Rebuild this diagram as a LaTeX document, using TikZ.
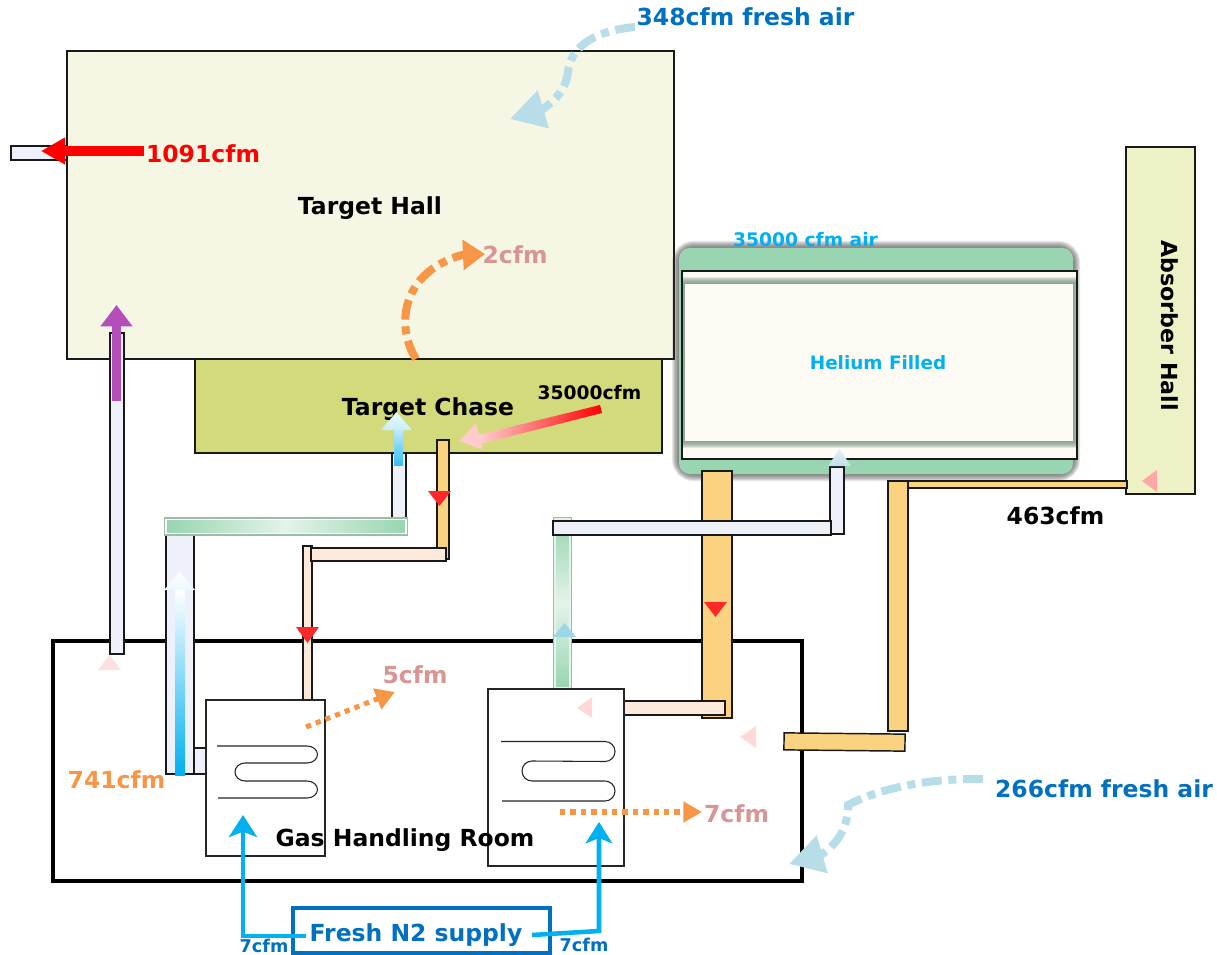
\documentclass[tikz,border=0pt]{standalone}
\usepackage{fontspec}
\setmainfont{DejaVu Sans}
\usetikzlibrary{arrows.meta,shadings}
\definecolor{hallfill}{HTML}{F5F6E4}
\definecolor{chasefill}{HTML}{D3DA7C}
\definecolor{absfill}{HTML}{EEF0C6}
\definecolor{ductblue}{HTML}{EEF1FA}
\definecolor{ductorange}{HTML}{FBD27F}
\definecolor{ductpeach}{HTML}{FDEADB}
\definecolor{glassgreen}{HTML}{98D5B0}
\definecolor{glasspale}{HTML}{E4F3EA}
\definecolor{cream}{HTML}{FDFBF3}
\definecolor{navy}{HTML}{0070C0}
\definecolor{sky}{HTML}{00B0F0}
\definecolor{flowor}{HTML}{F79646}
\definecolor{rose}{HTML}{D99594}
\definecolor{mist}{HTML}{B7DDE8}
\definecolor{violet}{HTML}{B44FB9}
\definecolor{hotred}{HTML}{FF2828}
\definecolor{blurgray}{HTML}{6F8F80}
\newcommand\rn[6]{\node[rect,#2,minimum width={(#5-#3)*0.75pt},minimum height={(#6-#4)*0.75pt}] (#1) at ({(#3+#5)/2},{(#4+#6)/2}) {};}
\newcommand\fs[1]{\fontsize{#1}{#1}\selectfont\bfseries}
\tikzset{
  rect/.style={rectangle,inner sep=0pt,outer sep=0pt},
  ln/.style={draw=black!90,line width=1.1pt},
  hall/.style={ln,fill=hallfill},
  chase/.style={ln,fill=chasefill},
  absorber/.style={ln,fill=absfill},
  dblue/.style={ln,fill=ductblue},
  dorange/.style={ln,fill=ductorange},
  dpeach/.style={ln,fill=ductpeach},
  hx/.style={draw=black!85,line width=0.8pt,fill=white},
  lab/.style={inner sep=0pt,outer sep=0pt},
  coil/.style={draw=black!85,line width=0.8pt},
  dotflow/.style={draw=flowor,line width=3.8pt,dash pattern=on 4pt off 3.8pt},
  ddflow/.style={line width=6pt,dash pattern=on 15pt off 5pt on 6pt off 5pt},
  n2flow/.style={draw=sky,line width=3.4pt},
}
\begin{document}
\begin{tikzpicture}[x=0.75pt,y=-0.75pt]
\useasboundingbox (0,0) rectangle (1217,955);
% halls
\rn{hallstub}{dblue}{11}{146}{67}{160}
\rn{thall}{hall}{67}{51}{674}{359}
\rn{tchase}{chase}{195}{359}{662}{453}
\rn{ahall}{absorber}{1126}{147}{1195}{494}
% helium vessel with blurred jacket
\foreach \w in {16,14,12,10,8,6,4,2}
  \draw[draw=black!75,line width=\w*0.75pt,opacity=.13,rounded corners=10pt] (680,249) rectangle (1072,473);
\fill[glassgreen,rounded corners=8pt] (679,248) rectangle (1073,474);
\rn{vessel}{ln,fill=cream}{682}{271}{1077}{459}
\begin{scope}
\clip (vessel.south west) rectangle (vessel.north east);
\foreach \w in {14,12,10,8,6,4,2}
  \draw[draw=blurgray,line width=\w*0.75pt,opacity=.2] (685,284) rectangle (1073,441);
\end{scope}
\rn{helium}{fill=cream}{685}{284}{1073}{441}
\draw[draw=black!90,line width=1.1pt] (vessel.south west) rectangle (vessel.north east);
% gas handling room
\rn{ghr}{draw=black,line width=3.2pt}{53}{641}{802}{881}
% ducts
\rn{d1}{dblue}{110}{333}{124}{654}
\rn{d2}{dblue}{166}{535}{194}{774}
\rn{d2b}{dblue}{194}{748}{207}{774}
\rn{d3}{dblue}{392}{453}{406}{519}
\node[rect,draw=black!25!glassgreen!70,line width=1pt,minimum width={242*0.75pt},minimum height={17*0.75pt}] (g1o) at (286,526.5) {};
\node[rect,draw=white,line width=1.1pt,left color=glassgreen,right color=glassgreen,middle color=glasspale,minimum width={240*0.75pt},minimum height={14*0.75pt}] (g1) at (286,526.5) {};
\rn{po1}{dorange}{437}{440}{449}{559}
\rn{pe1}{dpeach}{303}{546}{312}{700}
\rn{pe2}{dpeach}{311}{548}{446}{561}
\node[rect,draw=black!25!glassgreen!70,line width=1pt,minimum width={17*0.75pt},minimum height={171*0.75pt}] (g2o) at (562.5,603.5) {};
\node[rect,draw=glassgreen!25,line width=1.6pt,top color=glassgreen,bottom color=glassgreen,middle color=glasspale,minimum width={14.5*0.75pt},minimum height={169*0.75pt}] (g2) at (562.5,603.5) {};
\rn{o2}{dorange}{702}{471}{732}{718}
\rn{d5}{dblue}{830}{467}{844}{534}
\rn{d4}{dblue}{553}{521}{831}{535}
\rn{pe3}{dpeach}{620}{701}{725}{715}
\rn{o3}{dorange}{888}{481}{908}{731}
\rn{o4}{dorange}{908}{481}{1127}{488}
\node[rect,dorange,minimum width={121*0.75pt},minimum height={17*0.75pt},rotate=-0.6] (o5) at (844.5,742) {};
% heat exchangers
\rn{hxa}{hx}{206}{700}{325}{856}
\rn{hxb}{hx}{488}{689}{624}{866}
\draw[coil] (217,746) -- (307,746) arc[start angle=-90,end angle=90,x radius=10.5,y radius=8.5] -- (245,763) arc[start angle=-90,end angle=-270,x radius=10,y radius=9] -- (307,781) arc[start angle=-90,end angle=90,x radius=10.5,y radius=8.5] -- (218,798);
\draw[coil] (501,741.5) -- (605,741.5) arc[start angle=-90,end angle=90,radius=10] -- (532,761) arc[start angle=-90,end angle=-270,radius=10] -- (605,781) arc[start angle=-90,end angle=90,radius=10] -- (502,801);
% triangles
\fill[hotred] (428,491) -- (451,491) -- (439.5,506) -- cycle;
\fill[hotred] (296,627) -- (319,627) -- (307.5,643) -- cycle;
\fill[hotred] (704,602) -- (727,602) -- (715.5,617) -- cycle;
\fill[black!5!red!12] (98,670) -- (121,670) -- (109.5,655) -- cycle;
\fill[red!15] (592,697) -- (592,718) -- (577,708) -- cycle;
\fill[red!15] (756,726) -- (756,748) -- (740,737) -- cycle;
\fill[red!35] (1157,470) -- (1157,492) -- (1142,481) -- cycle;
\shade[top color=mist!40,bottom color=mist!90] (828,466) -- (851,466) -- (839.5,449) -- cycle;
\fill[mist!85!sky] (553,637) -- (576,637) -- (564.5,623) -- cycle;
% texts
\node[lab] (tthall) at (370,208) {\fs{17.6}Target Hall};
\node[lab] (ttchase) at (428,409) {\fs{17.6}Target Chase};
\node[lab,rotate=-90] (tahall) at (1170,325.5) {\fs{16.6}Absorber Hall};
\node[lab] (tghr) at (405,840) {\fs{17.6}Gas Handling Room};
\node[lab,text=red] (t1091) at (203,154) {\fs{17.6}1091cfm};
\node[lab,text=flowor] (t741) at (116.5,780) {\fs{17.6}741cfm};
\node[lab,text=rose] (t2) at (515,255) {\fs{17.6}2cfm};
\node[lab,text=rose] (t5) at (415,675) {\fs{17.6}5cfm};
\node[lab,text=rose] (t7) at (736.5,814) {\fs{17.6}7cfm};
\node[lab] (t463) at (1055.5,516) {\fs{17.6}463cfm};
\node[lab] (t35k) at (589.5,393) {\fs{14}35000cfm};
\node[lab,text=sky] (t35air) at (805.5,240) {\fs{14}35000 cfm air};
\node[lab,text=sky] (the) at (878,363) {\fs{13.8}Helium Filled};
\node[lab,text=navy] (t348) at (745.5,17) {\fs{17.6}348cfm fresh air};
\node[lab,text=navy] (t266) at (1104,789) {\fs{17.6}266cfm fresh air};
% N2 supply
\node[rect,draw=navy,line width=3.4pt,fill=white,minimum width={257*0.75pt},minimum height={45*0.75pt}] (n2) at (421.5,930.5) {};
\node[lab,text=navy] (tn2) at (416,935) {\fs{17.6}Fresh N2 supply};
\node[lab,text=navy] (t7l) at (264,946) {\fs{13.2}7cfm};
\node[lab,text=navy] (t7r) at (584,945) {\fs{13.2}7cfm};
% flows
\coordinate (n2l) at (306,936);
\coordinate (n2lc) at (243,936);
\coordinate (hxat) at (243,815);
\coordinate (n2r) at (532,935);
\coordinate (n2rc) at (599,931);
\coordinate (hxbt) at (599,822);
\draw[n2flow,-{Stealth[length=16.5pt,width=21pt,inset=4pt]}] (n2l) -- (n2lc) -- (hxat);
\draw[n2flow,-{Stealth[length=16pt,width=20pt,inset=4pt]}] (n2r) -- (n2rc) -- (hxbt);
% exhaust arrow
\coordinate (exs) at (144,151);
\coordinate (exe) at (41,151);
\draw[draw=red,line width=7pt,-{Triangle[length=18pt,width=19pt]}] (exs) -- (exe);
% purple arrow
\coordinate (pus) at (116.5,401);
\coordinate (pue) at (116.5,305);
\draw[draw=violet,line width=7pt,-{Triangle[length=16pt,width=23pt]}] (pus) -- (pue);
% gradient blue arrows
\node[rect,bottom color=sky,top color=white,minimum width={10*0.75pt},minimum height={185*0.75pt}] (ba1) at (180,682.5) {};
\shade[top color=white,bottom color=white!92!sky] (164,590) -- (195,590) -- (179.5,572) -- cycle;
\node[rect,bottom color=sky!80,top color=sky!25,minimum width={9*0.75pt},minimum height={35*0.75pt}] (ba2) at (398.5,447.5) {};
\shade[top color=sky!8,bottom color=sky!22] (381,430) -- (412,430) -- (396.5,412) -- cycle;
% red gradient arrow
\shade[left color=red!18,right color=red] (478,435) -- (600,405) -- (602,413) -- (480,444) -- cycle;
\fill[red!20] (459,441) -- (476,423) -- (483,450) -- cycle;
% dotted arrows
\coordinate (d5s) at (306,727);
\coordinate (d5e) at (395,692);
\draw[dotflow,-{Triangle[length=14.3pt,width=16pt]}] (d5s) -- (d5e);
\coordinate (d7s) at (560,812);
\coordinate (d7e) at (702,812);
\draw[dotflow,-{Triangle[length=14pt,width=15pt]}] (d7s) -- (d7e);
% dash-dot curved arrows
\coordinate (c2s) at (416,359);
\coordinate (c2m) at (462,255);
\coordinate (c2e) at (485,254);
\draw[ddflow,draw=flowor,-{Triangle[length=16.5pt,width=22pt]}] (c2s) .. controls (395,325) and (402,272) .. (c2m) -- (c2e);
\coordinate (c3s) at (635,27);
\coordinate (c3m) at (542.5,109.5);
\coordinate (c3e) at (510,119);
\draw[ddflow,draw=mist,-{Triangle[length=26pt,width=28pt]}] (c3s) .. controls (590,31) and (570,50) .. (568,72) .. controls (566,88) and (558,98) .. (c3m) -- (c3e);
\coordinate (c4s) at (983,779);
\coordinate (c4m) at (821.5,854.5);
\coordinate (c4e) at (789,864);
\draw[ddflow,draw=mist,-{Triangle[length=26pt,width=28pt]}] (c4s) .. controls (930,778) and (880,788) .. (848,805) .. controls (848,825) and (840,842) .. (c4m) -- (c4e);
\end{tikzpicture}
\end{document}
